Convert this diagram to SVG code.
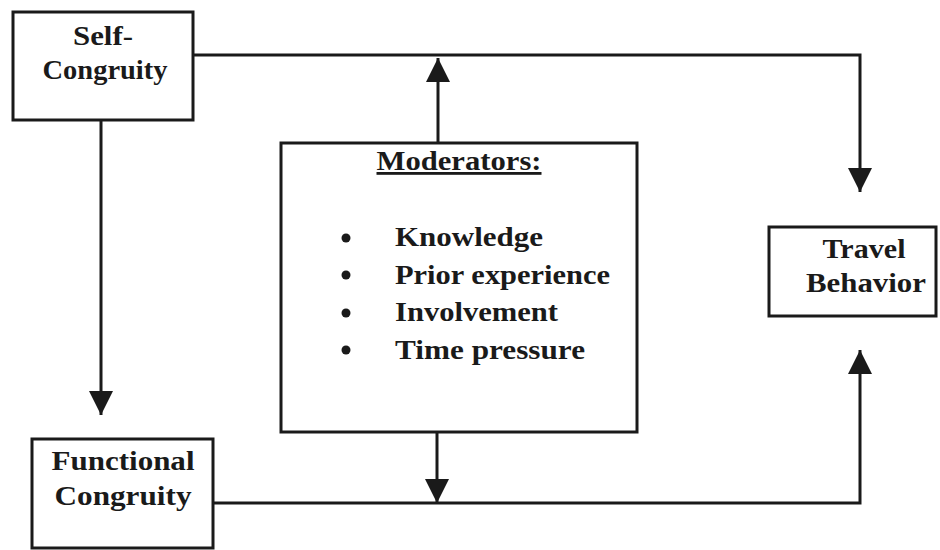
<svg xmlns="http://www.w3.org/2000/svg" width="940" height="550" viewBox="0 0 940 550">
  <style>
    .box { fill: #ffffff; stroke: #1a1a1a; stroke-width: 3; }
    .lbl { font-family: "Liberation Serif", "Times New Roman", serif; font-weight: bold; font-size: 28px; fill: #1a1a1a; text-anchor: middle; }
    .item { font-family: "Liberation Serif", "Times New Roman", serif; font-weight: bold; font-size: 28px; fill: #1a1a1a; }
    .wire { fill: none; stroke: #1a1a1a; stroke-width: 3; marker-end: url(#head); }
  </style>
  <defs>
    <marker id="head" markerUnits="userSpaceOnUse" markerWidth="24" markerHeight="24" refX="24" refY="12" orient="auto" viewBox="0 0 24 24">
      <path d="M0,0 L24,12 L0,24 Z" fill="#1a1a1a"/>
    </marker>
  </defs>
  <rect width="940" height="550" fill="#ffffff"/>

  <g id="connectors">
    <path class="wire" d="M194,55 H860 V192"/>
    <path class="wire" d="M101,120 V415"/>
    <path class="wire" d="M438,143 V58"/>
    <path class="wire" d="M437,432 V503"/>
    <path class="wire" d="M213,503 H860 V350"/>
  </g>

  <g id="self-congruity">
    <rect class="box" x="13" y="12" width="180" height="108"/>
    <text class="lbl" x="103" y="45" textLength="60" lengthAdjust="spacingAndGlyphs">Self-</text>
    <text class="lbl" x="105" y="79" textLength="125" lengthAdjust="spacingAndGlyphs">Congruity</text>
  </g>

  <g id="functional-congruity">
    <rect class="box" x="32" y="439" width="181" height="109"/>
    <text class="lbl" x="123" y="470" textLength="143" lengthAdjust="spacingAndGlyphs">Functional</text>
    <text class="lbl" x="123" y="505" textLength="137" lengthAdjust="spacingAndGlyphs">Congruity</text>
  </g>

  <g id="moderators">
    <rect class="box" x="281" y="143" width="356" height="289"/>
    <text class="lbl" x="459" y="170" text-decoration="underline" textLength="165" lengthAdjust="spacingAndGlyphs">Moderators:</text>
    <circle cx="346" cy="238" r="4.5" fill="#1a1a1a"/>
    <circle cx="346" cy="275" r="4.5" fill="#1a1a1a"/>
    <circle cx="346" cy="313" r="4.5" fill="#1a1a1a"/>
    <circle cx="346" cy="350" r="4.5" fill="#1a1a1a"/>
    <text class="item" x="395" y="246" textLength="148" lengthAdjust="spacingAndGlyphs">Knowledge</text>
    <text class="item" x="395" y="284" textLength="215" lengthAdjust="spacingAndGlyphs">Prior experience</text>
    <text class="item" x="395" y="321" textLength="163" lengthAdjust="spacingAndGlyphs">Involvement</text>
    <text class="item" x="395" y="359" textLength="190" lengthAdjust="spacingAndGlyphs">Time pressure</text>
  </g>

  <g id="travel-behavior">
    <rect class="box" x="769" y="227" width="167" height="89"/>
    <text class="lbl" x="864" y="258" textLength="83" lengthAdjust="spacingAndGlyphs">Travel</text>
    <text class="lbl" x="866" y="292" textLength="120" lengthAdjust="spacingAndGlyphs">Behavior</text>
  </g>
</svg>
